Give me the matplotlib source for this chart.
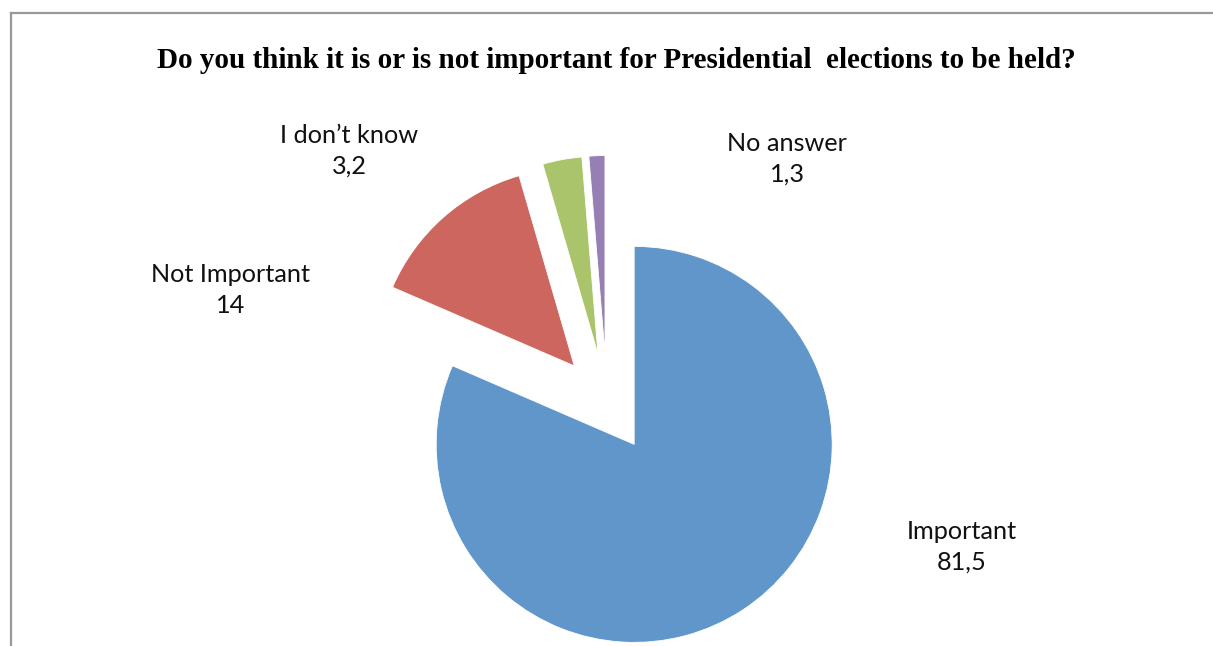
import matplotlib
matplotlib.use("Agg")
import matplotlib.pyplot as plt
from matplotlib.lines import Line2D

# ---- data ----
categories = ["Important", "Not Important", "I don\u2019t know", "No answer"]
values = [81.5, 14, 3.2, 1.3]
colors = ["#6096C9", "#CD665E", "#AAC46C", "#967FB3"]
title = "Do you think it is or is not important for Presidential  elections to be held?"

# ---- layout (pixels) ----
W, H = 1213, 646
DPI = 100
cx, cy, R = 607, 403, 198          # pie centre / radius in image pixels
label_pos = [(962, 547), (231, 290), (349, 151), (787, 159)]

fig = plt.figure(figsize=(W / DPI, H / DPI), dpi=DPI)
fig.patch.set_facecolor("white")

ax = fig.add_axes([0, 0, 1, 1])
ax.pie(values, colors=colors, startangle=90, counterclock=False,
       explode=[0.25] * len(values), radius=1,
       wedgeprops=dict(edgecolor="white", linewidth=0.6))
ax.set_xlim(-cx / R, (W - cx) / R)
ax.set_ylim(-(H - cy) / R, cy / R)
ax.set_aspect("auto")
ax.axis("off")

# border (top and left)
fig.add_artist(Line2D([11 / W, 1], [1 - 13 / H, 1 - 13 / H], transform=fig.transFigure,
                      color="#999999", linewidth=1.6))
fig.add_artist(Line2D([11 / W, 11 / W], [0, 1 - 13 / H], transform=fig.transFigure,
                      color="#999999", linewidth=1.6))

# title
fig.text(616 / W, 1 - 68 / H, title, ha="center", va="baseline",
         fontsize=21, fontweight="bold", family="Liberation Serif", color="black")

def fmt(v):
    return f"{v:g}".replace(".", ",")

for cat, v, (px, py) in zip(categories, values, label_pos):
    fig.text(px / W, 1 - py / H, f"{cat}\n{fmt(v)}", ha="center", va="center",
             fontsize=18.2, family="Lato", color="#111111", linespacing=1.42)

fig.savefig("out.png", dpi=DPI, facecolor="white")
